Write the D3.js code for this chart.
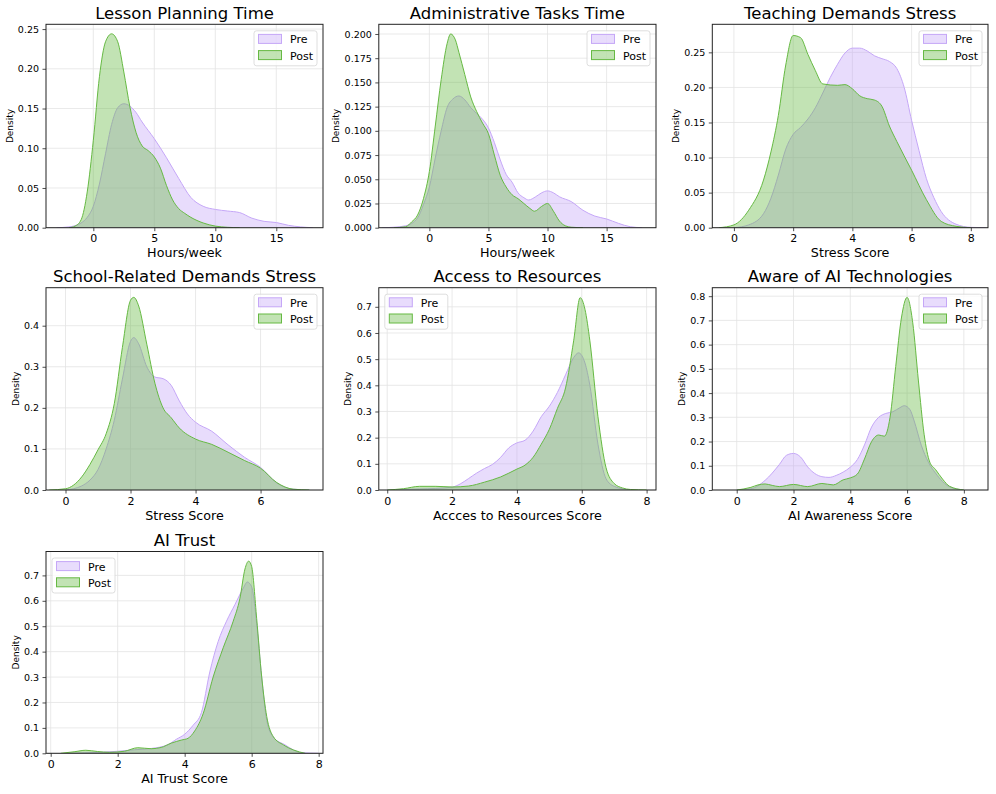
<!DOCTYPE html>
<html>
<head>
<meta charset="utf-8">
<script src="https://cdn.jsdelivr.net/npm/d3@7"></script>
<style>
  body { margin: 0; background: #fff; }
  svg { font-family: "DejaVu Sans", sans-serif; }
</style>
</head>
<body>
<svg id="chart" width="996" height="794"></svg>
<script>
const lessonPreX  = [-3, -2, -1, -0.5, 0, 0.5, 1, 1.5, 2, 2.5, 3, 3.5, 4, 5, 6, 7, 8, 9, 10, 11, 12, 13, 14, 15, 16, 17, 18];
const lessonPreY  = [0, 0.001, 0.006, 0.013, 0.027, 0.055, 0.093, 0.13, 0.151, 0.156, 0.153, 0.145, 0.133, 0.112, 0.088, 0.062, 0.038, 0.027, 0.023, 0.021, 0.019, 0.012, 0.008, 0.0065, 0.003, 0.001, 0];
const lessonPostX = [-2, -1.5, -1, -0.5, 0, 0.5, 1, 1.5, 2, 2.5, 3, 3.5, 4, 4.5, 5, 5.5, 6, 6.5, 7, 7.5, 8, 9, 10, 11, 12];
const lessonPostY = [0, 0.002, 0.01, 0.045, 0.11, 0.19, 0.234, 0.244, 0.234, 0.196, 0.152, 0.12, 0.103, 0.097, 0.089, 0.075, 0.053, 0.035, 0.024, 0.018, 0.013, 0.006, 0.002, 0.0005, 0];

const adminPreX  = [-4, -3, -2, -1, -0.5, 0, 0.5, 1, 1.5, 2, 2.5, 3, 3.5, 4, 4.5, 5, 5.5, 6, 6.5, 7, 7.5, 8, 8.4, 9, 9.5, 10, 10.5, 11, 12, 13, 14, 15, 16, 17, 18];
const adminPreY  = [0, 0.0005, 0.002, 0.01, 0.024, 0.042, 0.072, 0.1, 0.124, 0.133, 0.136, 0.132, 0.124, 0.118, 0.112, 0.103, 0.088, 0.07, 0.055, 0.047, 0.036, 0.031, 0.0286, 0.032, 0.036, 0.038, 0.036, 0.032, 0.027, 0.018, 0.012, 0.009, 0.0045, 0.001, 0];
const adminPostX = [-3, -2, -1.5, -1, -0.5, 0, 0.5, 1, 1.5, 1.8, 2.2, 2.5, 3, 3.5, 4, 4.5, 5, 5.5, 6, 6.5, 7, 7.5, 8, 8.5, 8.9, 9.5, 10, 10.5, 11, 11.5, 12, 13];
const adminPostY = [0, 0.001, 0.006, 0.013, 0.03, 0.058, 0.105, 0.153, 0.19, 0.2, 0.194, 0.181, 0.158, 0.135, 0.12, 0.108, 0.097, 0.075, 0.054, 0.042, 0.034, 0.03, 0.025, 0.02, 0.017, 0.022, 0.025, 0.017, 0.007, 0.002, 0.0005, 0];

const teachPreX  = [0, 0.5, 1, 1.25, 1.5, 1.75, 2, 2.25, 2.5, 2.75, 3, 3.25, 3.5, 3.75, 4, 4.25, 4.5, 4.75, 5, 5.25, 5.5, 5.75, 6, 6.25, 6.5, 6.75, 7, 7.5, 8, 8.5];
const teachPreY  = [0, 0.004, 0.02, 0.042, 0.075, 0.112, 0.133, 0.143, 0.155, 0.171, 0.192, 0.214, 0.233, 0.249, 0.256, 0.256, 0.252, 0.245, 0.241, 0.237, 0.227, 0.2, 0.153, 0.11, 0.07, 0.043, 0.023, 0.005, 0.0005, 0];
const teachPostX = [-0.5, 0, 0.5, 1, 1.25, 1.5, 1.75, 2, 2.25, 2.5, 2.75, 3, 3.5, 3.75, 4, 4.25, 4.5, 4.75, 5, 5.25, 5.5, 6, 6.5, 7, 7.5, 8];
const teachPostY = [0, 0.004, 0.025, 0.068, 0.108, 0.16, 0.232, 0.274, 0.271, 0.247, 0.224, 0.205, 0.203, 0.204, 0.198, 0.188, 0.184, 0.182, 0.173, 0.145, 0.123, 0.082, 0.04, 0.009, 0.002, 0];

const schoolPreX  = [0, 0.5, 0.75, 1, 1.25, 1.5, 1.75, 2, 2.1, 2.25, 2.5, 2.75, 3, 3.25, 3.5, 3.75, 4, 4.5, 5, 5.5, 6, 6.5, 7, 7.5];
const schoolPreY  = [0, 0.01, 0.024, 0.05, 0.1, 0.17, 0.27, 0.362, 0.371, 0.356, 0.3, 0.275, 0.271, 0.255, 0.217, 0.185, 0.165, 0.143, 0.11, 0.08, 0.055, 0.017, 0.002, 0];
const schoolPostX = [-0.5, 0, 0.25, 0.5, 0.75, 1, 1.25, 1.5, 1.75, 2, 2.1, 2.25, 2.5, 2.75, 3, 3.25, 3.5, 4, 4.5, 5, 5.5, 6, 6.5, 7, 7.5];
const schoolPostY = [0, 0.003, 0.012, 0.032, 0.062, 0.098, 0.137, 0.21, 0.347, 0.462, 0.469, 0.448, 0.355, 0.26, 0.2, 0.176, 0.151, 0.124, 0.111, 0.092, 0.072, 0.053, 0.018, 0.002, 0];

const accessPreX  = [0, 1, 1.5, 2, 2.25, 2.5, 2.75, 3, 3.25, 3.5, 3.75, 4, 4.25, 4.5, 4.75, 5, 5.25, 5.5, 5.75, 5.9, 6.1, 6.25, 6.5, 6.75, 7, 7.5];
const accessPreY  = [0, 0.004, 0.006, 0.011, 0.023, 0.043, 0.064, 0.082, 0.098, 0.125, 0.161, 0.18, 0.19, 0.225, 0.28, 0.32, 0.373, 0.44, 0.506, 0.524, 0.485, 0.4, 0.175, 0.043, 0.014, 0];
const accessPostX = [0, 0.5, 1, 1.5, 2, 2.5, 3, 3.5, 4, 4.25, 4.5, 4.75, 5, 5.25, 5.5, 5.75, 5.95, 6.1, 6.25, 6.5, 6.75, 7, 7.25, 7.5, 8];
const accessPostY = [0, 0.005, 0.014, 0.014, 0.0115, 0.015, 0.03, 0.05, 0.08, 0.095, 0.125, 0.175, 0.232, 0.312, 0.39, 0.57, 0.735, 0.69, 0.57, 0.28, 0.085, 0.025, 0.008, 0.002, 0];

const awarePreX  = [0, 0.5, 1, 1.5, 1.75, 2, 2.25, 2.5, 2.75, 3, 3.25, 3.5, 3.75, 4, 4.25, 4.5, 4.75, 5, 5.25, 5.5, 5.75, 5.9, 6.1, 6.25, 6.5, 6.75, 7, 7.5, 8];
const awarePreY  = [0, 0.005, 0.04, 0.105, 0.143, 0.151, 0.136, 0.095, 0.068, 0.055, 0.052, 0.06, 0.074, 0.094, 0.126, 0.186, 0.26, 0.3, 0.316, 0.323, 0.34, 0.348, 0.332, 0.285, 0.185, 0.115, 0.07, 0.013, 0];
const awarePostX = [0, 0.5, 0.75, 1, 1.25, 1.5, 2, 2.5, 3, 3.4, 3.75, 4, 4.25, 4.5, 4.75, 5, 5.2, 5.4, 5.6, 5.8, 6, 6.2, 6.4, 6.6, 6.8, 7, 7.25, 7.5, 8];
const awarePostY = [0, 0.011, 0.021, 0.025, 0.019, 0.014, 0.023, 0.014, 0.027, 0.021, 0.042, 0.05, 0.066, 0.128, 0.2, 0.227, 0.222, 0.3, 0.51, 0.71, 0.795, 0.69, 0.45, 0.23, 0.115, 0.085, 0.045, 0.015, 0];

const trustPreX  = [0.5, 1, 1.5, 2, 2.5, 3, 3.5, 3.75, 4, 4.25, 4.5, 4.75, 5, 5.25, 5.5, 5.75, 5.87, 6, 6.15, 6.3, 6.45, 6.65, 7, 7.25, 7.5, 8];
const trustPreY  = [0, 0.002, 0.004, 0.008, 0.014, 0.019, 0.034, 0.055, 0.075, 0.11, 0.16, 0.32, 0.44, 0.52, 0.585, 0.65, 0.674, 0.655, 0.51, 0.3, 0.13, 0.063, 0.033, 0.013, 0.002, 0];
const trustPostX = [0.3, 0.7, 1.05, 1.4, 1.75, 2.2, 2.6, 3, 3.3, 3.6, 3.9, 4.1, 4.3, 4.55, 4.85, 5.15, 5.45, 5.65, 5.8, 5.91, 6, 6.15, 6.3, 6.45, 6.65, 6.95, 7.25, 7.6];
const trustPostY = [0, 0.006, 0.012, 0.007, 0.004, 0.008, 0.022, 0.018, 0.023, 0.04, 0.052, 0.059, 0.088, 0.155, 0.3, 0.415, 0.52, 0.61, 0.725, 0.756, 0.735, 0.53, 0.3, 0.145, 0.065, 0.033, 0.013, 0];

const titles  = ["Lesson Planning Time", "Administrative Tasks Time", "Teaching Demands Stress",
                 "School-Related Demands Stress", "Access to Resources", "Aware of AI Technologies", "AI Trust"];
const xLabels = ["Hours/week", "Hours/week", "Stress Score", "Stress Score",
                 "Accces to Resources Score", "AI Awareness Score", "AI Trust Score"];

const hoursTicks = [0, 5, 10, 15];
const scoreTicks = [0, 2, 4, 6, 8];
const stressTicks = [0, 2, 4, 6];
const densTicks025 = [0, 0.05, 0.10, 0.15, 0.20, 0.25];
const densTicks020 = [0, 0.025, 0.05, 0.075, 0.1, 0.125, 0.15, 0.175, 0.2];
const densTicks04 = [0, 0.1, 0.2, 0.3, 0.4];
const densTicks07 = [0, 0.1, 0.2, 0.3, 0.4, 0.5, 0.6, 0.7];
const densTicks08 = [0, 0.1, 0.2, 0.3, 0.4, 0.5, 0.6, 0.7, 0.8];

const xLimits = [[-3.88, 18.83], [-4.28, 19.18], [-0.73, 8.58], [-0.6, 7.92], [-0.26, 8.29], [-0.86, 8.85], [-0.14, 8.13]];
const yMaxes  = [0.256, 0.210, 0.29, 0.4925, 0.773, 0.835, 0.794];

const preColor = "#c5a7f7";
const postColor = "#66b943";

// grid of axes boxes (3 columns x 3 rows, last row has one panel)
const colLeft = [46, 378.8, 712.3];
const colRight = [323, 656, 988];
const rowTop = [24.3, 287.7, 551.5];
const rowBottom = [227.7, 490, 753.3];

const panels = [
  { pre: [lessonPreX, lessonPreY], post: [lessonPostX, lessonPostY], xTicks: hoursTicks, yTicks: densTicks025, fmt: ".2f", legend: "right" },
  { pre: [adminPreX, adminPreY], post: [adminPostX, adminPostY], xTicks: hoursTicks, yTicks: densTicks020, fmt: ".3f", legend: "right" },
  { pre: [teachPreX, teachPreY], post: [teachPostX, teachPostY], xTicks: scoreTicks, yTicks: densTicks025, fmt: ".2f", legend: "right" },
  { pre: [schoolPreX, schoolPreY], post: [schoolPostX, schoolPostY], xTicks: stressTicks, yTicks: densTicks04, fmt: ".1f", legend: "right" },
  { pre: [accessPreX, accessPreY], post: [accessPostX, accessPostY], xTicks: scoreTicks, yTicks: densTicks07, fmt: ".1f", legend: "left" },
  { pre: [awarePreX, awarePreY], post: [awarePostX, awarePostY], xTicks: scoreTicks, yTicks: densTicks08, fmt: ".1f", legend: "right" },
  { pre: [trustPreX, trustPreY], post: [trustPostX, trustPostY], xTicks: scoreTicks, yTicks: densTicks07, fmt: ".1f", legend: "left" }
];

const svg = d3.select("#chart");

panels.forEach((p, i) => renderPanel(p, i));

function renderPanel(p, i) {
  const col = i % 3, row = Math.floor(i / 3);
  const left = colLeft[col], right = colRight[col];
  const top = rowTop[row], bottom = rowBottom[row];

  const x = d3.scaleLinear().domain(xLimits[i]).range([left, right]);
  const y = d3.scaleLinear().domain([0, yMaxes[i]]).range([bottom, top]);

  const g = svg.append("g");

  g.append("clipPath").attr("id", "clip" + i)
    .append("rect")
    .attr("x", left).attr("y", top)
    .attr("width", right - left).attr("height", bottom - top);

  // grid
  g.append("g").selectAll("line")
    .data(p.xTicks)
    .join("line")
    .attr("x1", d => x(d)).attr("x2", d => x(d))
    .attr("y1", top).attr("y2", bottom)
    .attr("stroke", "#e3e3e3").attr("stroke-width", 0.8);

  g.append("g").selectAll("line")
    .data(p.yTicks)
    .join("line")
    .attr("x1", left).attr("x2", right)
    .attr("y1", d => y(d)).attr("y2", d => y(d))
    .attr("stroke", "#e3e3e3").attr("stroke-width", 0.8);

  // density fills: pre first, post on top
  const plot = g.append("g").attr("clip-path", `url(#clip${i})`);
  [[p.pre, preColor], [p.post, postColor]].forEach(([s, color]) => {
    const pts = s[0].map((v, k) => [v, s[1][k]]);
    const area = d3.area()
      .x(d => x(d[0])).y0(y(0)).y1(d => y(d[1]))
      .curve(d3.curveMonotoneX);
    const line = d3.line()
      .x(d => x(d[0])).y(d => y(d[1]))
      .curve(d3.curveMonotoneX);
    plot.append("path").datum(pts)
      .attr("d", area)
      .attr("fill", color).attr("fill-opacity", 0.4);
    plot.append("path").datum(pts)
      .attr("d", line)
      .attr("fill", "none").attr("stroke", color).attr("stroke-width", 1);
  });

  // axes
  const xAxis = g.append("g")
    .attr("transform", `translate(0,${bottom})`)
    .call(d3.axisBottom(x).tickValues(p.xTicks).tickFormat(d3.format("d"))
      .tickSize(3.5).tickSizeOuter(0).tickPadding(3.5));
  xAxis.select(".domain").remove();
  xAxis.selectAll("line").attr("stroke", "#222").attr("stroke-width", 0.8);
  xAxis.selectAll("text").attr("font-size", 11).attr("font-family", "DejaVu Sans").attr("fill", "#000");

  const yAxis = g.append("g")
    .attr("transform", `translate(${left},0)`)
    .call(d3.axisLeft(y).tickValues(p.yTicks).tickFormat(d3.format(p.fmt))
      .tickSize(3.5).tickSizeOuter(0).tickPadding(3.5));
  yAxis.select(".domain").remove();
  yAxis.selectAll("line").attr("stroke", "#222").attr("stroke-width", 0.8);
  yAxis.selectAll("text").attr("font-size", 9.5).attr("font-family", "DejaVu Sans").attr("fill", "#000");

  // spines
  g.append("rect")
    .attr("x", left).attr("y", top)
    .attr("width", right - left).attr("height", bottom - top)
    .attr("fill", "none").attr("stroke", "#222").attr("stroke-width", 1);

  // title and labels
  g.append("text")
    .attr("x", (left + right) / 2).attr("y", top - 5.5)
    .attr("text-anchor", "middle").attr("font-size", 16.5)
    .text(titles[i]);

  g.append("text")
    .attr("x", (left + right) / 2).attr("y", bottom + 29.7)
    .attr("text-anchor", "middle").attr("font-size", 12.7)
    .text(xLabels[i]);

  const tickLeft = d3.min(yAxis.selectAll("text").nodes(), n => n.getBoundingClientRect().left);
  const labelX = tickLeft - 8.5;
  const labelY = (top + bottom) / 2;
  g.append("text")
    .attr("transform", `translate(${labelX},${labelY}) rotate(-90)`)
    .attr("text-anchor", "middle").attr("dy", "0.35em").attr("font-size", 9)
    .text("Density");

  // legend
  const lw = 63, lh = 35;
  const lx = p.legend === "right" ? right - 6 - lw : left + 6;
  const ly = top + 6.5;
  const leg = g.append("g").attr("transform", `translate(${lx},${ly})`);
  leg.append("rect")
    .attr("width", lw).attr("height", lh).attr("rx", 2.5)
    .attr("fill", "#fff").attr("fill-opacity", 0.8)
    .attr("stroke", "#d6d6d6").attr("stroke-width", 0.8);
  [["Pre", preColor], ["Post", postColor]].forEach(([name, color], k) => {
    leg.append("rect")
      .attr("x", 4.5).attr("y", 3.6 + k * 16.2)
      .attr("width", 23).attr("height", 9)
      .attr("fill", color).attr("fill-opacity", 0.4)
      .attr("stroke", color).attr("stroke-width", 1);
    leg.append("text")
      .attr("x", 36).attr("y", 12.6 + k * 16.2)
      .attr("font-size", 11)
      .text(name);
  });
}
</script>
</body>
</html>
